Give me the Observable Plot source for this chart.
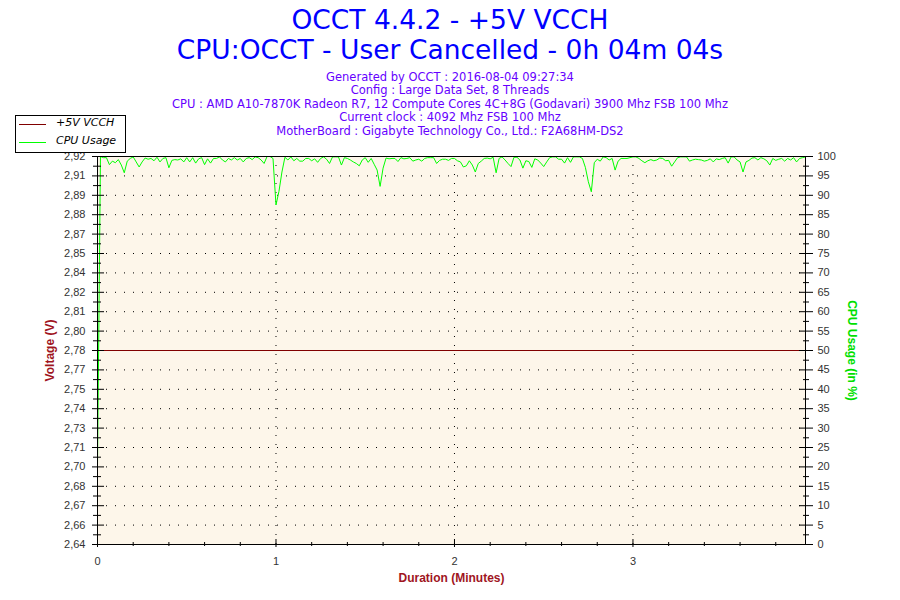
<!DOCTYPE html>
<html>
<head>
<meta charset="utf-8">
<script src="https://cdn.jsdelivr.net/npm/d3@7"></script>
<script src="https://cdn.jsdelivr.net/npm/@observablehq/plot@0.6"></script>
<style>
  body { margin: 0; background: #fff; }
  #chart { position: relative; width: 900px; height: 600px; font-family: "DejaVu Sans", sans-serif; }
  #chart svg { position: absolute; left: 0; top: 0; }
  .title { position: absolute; left: 0; width: 900px; text-align: center; color: #0000ff; font-size: 26.5px; line-height: 30px; white-space: nowrap; }
  #info { position: absolute; left: 0; top: 70.5px; width: 900px; text-align: center; color: #6600ff; font-size: 11.5px; line-height: 13.6px; }
  #legend { position: absolute; left: 15px; top: 115px; width: 109px; height: 36px; border: 1px solid #000; background: #fff; z-index: 2; }
  .lg-row { position: absolute; left: 0; height: 16px; font-size: 11px; font-style: italic; color: #000; }
  .lg-row span.sw { position: absolute; left: 3px; top: 8px; width: 27px; height: 0; border-top: 1px solid; }
  .lg-row span.lb { position: absolute; left: 40px; top: 0; white-space: nowrap; }
</style>
</head>
<body>
<div id="chart">
  <div class="title" style="top:5px">OCCT 4.4.2 - +5V VCCH</div>
  <div class="title" style="top:35px">CPU:OCCT - User Cancelled - 0h 04m 04s</div>
  <div id="info"></div>
  <div id="legend"></div>
</div>
<script>
const infoLines = [
  "Generated by OCCT : 2016-08-04 09:27:34",
  "Config : Large Data Set, 8 Threads",
  "CPU : AMD A10-7870K Radeon R7, 12 Compute Cores 4C+8G (Godavari) 3900 Mhz FSB 100 Mhz",
  "Current clock : 4092 Mhz FSB 100 Mhz",
  "MotherBoard : Gigabyte Technology Co., Ltd.: F2A68HM-DS2"
];

const seriesNames = ["+5V VCCH", "CPU Usage"];
const seriesColors = ["#800000", "#00ff00"];

// CPU usage (%), one sample per second
const cpuUsage = [
  20, 100, 99.7, 99.7, 97.9, 98.8, 98.4, 99.2, 97.8, 95.8,
  98.8, 99.5, 99.9, 98.6, 97.3, 98.6, 99.6, 99.3, 99.5, 98.9,
  99.8, 98.6, 99.5, 99.7, 97.1, 99.0, 99.2, 99.1, 99.4, 98.6,
  99.7, 98.6, 99.7, 98.3, 99.4, 99.7, 97.9, 99.4, 98.3, 99.5,
  99.5, 99.9, 99.1, 98.6, 99.5, 99.1, 99.7, 99.1, 99.5, 98.6,
  99.5, 99.7, 99.2, 99.9, 99.7, 99.1, 98.2, 100, 100, 99.5,
  87.5, 91.0, 96.0, 99.8, 99.1, 99.9, 98.9, 99.5, 98.8, 98.8,
  99.5, 99.5, 98.9, 99.4, 98.5, 99.5, 99.9, 99.3, 98.2, 99.9,
  99.9, 99.9, 97.8, 99.7, 99.5, 99.1, 98.6, 98.2, 97.6, 99.1,
  99.7, 98.5, 99.5, 98.0, 96.5, 92.3, 97.0, 99.6, 99.4, 99.5,
  99.5, 98.7, 99.7, 99.4, 99.5, 99.7, 98.8, 99.1, 99.3, 98.8,
  99.5, 99.7, 99.7, 99.7, 98.2, 99.0, 99.3, 99.3, 99.0, 99.5,
  99.5, 98.9, 98.6, 97.3, 97.6, 98.9, 97.8, 96.0, 98.2, 98.8,
  99.5, 99.6, 99.4, 99.8, 95.8, 99.5, 99.9, 99.1, 98.2, 97.4,
  99.8, 99.8, 99.1, 97.0, 98.9, 98.7, 97.2, 99.4, 99.1, 98.3,
  97.4, 98.6, 99.7, 99.9, 99.9, 99.3, 99.3, 98.3, 99.7, 98.5,
  99.9, 99.9, 99.9, 99.5, 97.2, 93.5, 90.9, 98.4, 99.3, 98.8,
  99.9, 99.7, 99.1, 99.5, 96.5, 98.8, 99.5, 99.5, 99.5, 99.7,
  99.9, 99.9, 99.5, 98.9, 98.4, 98.9, 99.2, 98.9, 99.1, 99.6,
  99.5, 98.9, 99.0, 97.5, 98.6, 99.7, 99.9, 99.9, 99.9, 98.8,
  99.1, 99.3, 99.2, 99.1, 98.8, 99.0, 99.4, 98.6, 99.4, 99.2,
  99.5, 99.7, 98.3, 99.9, 99.9, 99.1, 98.6, 96.0, 98.6, 99.0,
  99.6, 99.7, 99.1, 99.7, 99.4, 98.9, 97.8, 99.5, 99.0, 99.3,
  99.5, 98.8, 99.5, 99.1, 99.7, 98.6, 99.5, 99.7, 99.9
];

// +5V VCCH reading (V), flat over the whole run
const vcchSeconds = [0, 238];
const vcchVolts = [2.78, 2.78];

const voltDomain = [2.64, 2.92];
const voltTickLabels = ["2,64", "2,66", "2,67", "2,68", "2,70", "2,71", "2,73", "2,74", "2,75", "2,77",
  "2,78", "2,80", "2,81", "2,82", "2,84", "2,85", "2,87", "2,88", "2,89", "2,91", "2,92"];
const cpuTicks = [0, 5, 10, 15, 20, 25, 30, 35, 40, 45, 50, 55, 60, 65, 70, 75, 80, 85, 90, 95, 100];
const minuteTicks = [0, 1, 2, 3];
const minuteMinor = [0.2, 0.4, 0.6, 0.8, 1.2, 1.4, 1.6, 1.8, 2.2, 2.4, 2.6, 2.8, 3.2, 3.4, 3.6, 3.8];

document.getElementById("info").innerHTML = infoLines.map((s) => `<div>${s}</div>`).join("");

const legend = document.getElementById("legend");
seriesNames.forEach((name, i) => {
  const row = document.createElement("div");
  row.className = "lg-row";
  row.style.top = (i === 0 ? 0 : 18) + "px";
  row.innerHTML = `<span class="sw" style="border-color:${seriesColors[i]}"></span><span class="lb">${name}</span>`;
  legend.appendChild(row);
});

// both series share one vertical scale: CPU % on the right, volts mapped onto it on the left
const voltToPct = d3.scaleLinear().domain(voltDomain).range([0, 100]);
const cpuData = cpuUsage.map((v, i) => ({ min: i / 60, v }));
const vcchData = vcchSeconds.map((s, i) => ({ min: s / 60, v: voltToPct(vcchVolts[i]) }));
const cpuMinor = cpuTicks.slice(1).map((v) => v - 2.5);

const tickFont = { fill: "#333", fontSize: 11, fontFamily: "Liberation Sans, sans-serif" };
const titleFont = { fontWeight: "bold", fontSize: 12, fontFamily: "Liberation Sans, sans-serif", textAnchor: "middle" };

const chart = Plot.plot({
  width: 900,
  height: 600,
  marginLeft: 97,
  marginRight: 95,
  marginTop: 156,
  marginBottom: 56,
  style: { background: "transparent", fontFamily: "DejaVu Sans, sans-serif" },
  x: { domain: [0, 238 / 60], axis: null },
  y: { domain: [0, 100], axis: null },
  marks: [
    Plot.frame({ fill: "#fdf6ea", stroke: null }),
    Plot.gridY(cpuTicks, { stroke: "#000", strokeOpacity: 1, strokeDasharray: "1,8" }),
    Plot.gridX(minuteTicks.slice(1), { stroke: "#000", strokeOpacity: 1, strokeDasharray: "1,8" }),
    Plot.line(vcchData, { x: "min", y: "v", stroke: seriesColors[0], strokeWidth: 1 }),
    Plot.line(cpuData, { x: "min", y: "v", stroke: seriesColors[1], strokeWidth: 1 }),
    Plot.frame({ stroke: "#000", strokeWidth: 1 }),
    // left axis (voltage)
    Plot.axisY(cpuTicks, { anchor: "left", tickSize: 12, dx: 7, tickFormat: () => "", label: null, stroke: "#000" }),
    Plot.axisY(cpuMinor, { anchor: "left", tickSize: 8, dx: 4, tickFormat: () => "", label: null, stroke: "#000" }),
    Plot.axisY(cpuTicks, { anchor: "left", tickSize: 0, tickPadding: 12, label: null, ...tickFont,
      tickFormat: (d) => voltTickLabels[cpuTicks.indexOf(d)] }),
    // right axis (CPU %)
    Plot.axisY(cpuTicks, { anchor: "right", tickSize: 14, dx: -7, tickFormat: () => "", label: null, stroke: "#000" }),
    Plot.axisY(cpuMinor, { anchor: "right", tickSize: 6, dx: -3, tickFormat: () => "", label: null, stroke: "#000" }),
    Plot.axisY(cpuTicks, { anchor: "right", tickSize: 0, tickPadding: 12, label: null, ...tickFont,
      tickFormat: (d) => String(d) }),
    // bottom axis (minutes)
    Plot.axisX(minuteTicks, { anchor: "bottom", tickSize: 8, dy: -5, tickFormat: () => "", label: null, stroke: "#000" }),
    Plot.axisX(minuteMinor, { anchor: "bottom", tickSize: 4, dy: -2, tickFormat: () => "", label: null, stroke: "#000" }),
    Plot.axisX(minuteTicks, { anchor: "bottom", tickSize: 0, tickPadding: 13, label: null, ...tickFont,
      tickFormat: (d) => String(d) }),
    // axis titles
    Plot.text(["Voltage (V)"], { frameAnchor: "left", dx: -47, rotate: -90, fill: "#a0151e", ...titleFont }),
    Plot.text(["CPU Usage (in %)"], { frameAnchor: "right", dx: 46, rotate: 90, fill: "#00e000", ...titleFont }),
    Plot.text(["Duration (Minutes)"], { frameAnchor: "bottom", dy: 37, fill: "#a0151e", ...titleFont })
  ]
});

document.getElementById("chart").appendChild(chart);
</script>
</body>
</html>
